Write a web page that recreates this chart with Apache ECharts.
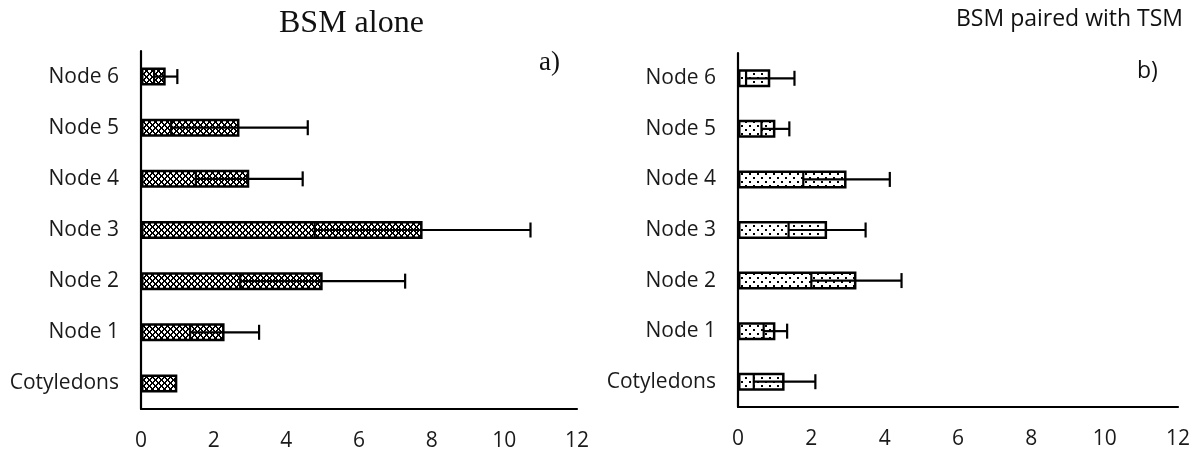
<!DOCTYPE html>
<html>
<head>
<meta charset="utf-8">
<script src="https://cdn.jsdelivr.net/npm/echarts@6/dist/echarts.min.js"></script>
<style>
  html, body { margin: 0; padding: 0; background: #fff; }
  #chart { width: 1204px; height: 452px; }
</style>
</head>
<body>
<div id="chart"></div>
<script>
// Shoot positions along the stem, listed from the bottom of the plant up
const categories = ['Cotyledons', 'Node 1', 'Node 2', 'Node 3', 'Node 4', 'Node 5', 'Node 6'];

// a) BSM alone: means and standard deviations
const aloneMean = [1.0, 2.3, 5.0, 7.75, 2.98, 2.71, 0.68];
const aloneSd   = [0, 0.95, 2.27, 2.97, 1.47, 1.88, 0.32];

// b) BSM paired with TSM: means and standard deviations
const pairedMean = [1.27, 1.02, 3.23, 2.43, 2.96, 1.02, 0.88];
const pairedSd   = [0.84, 0.32, 1.23, 1.05, 1.18, 0.38, 0.66];

const xTicks = { min: 0, max: 12, interval: 2 };

// Fill textures for the two panels
function crossHatch() {
  const c = document.createElement('canvas');
  c.width = 6; c.height = 6;
  const g = c.getContext('2d');
  g.fillStyle = '#fff'; g.fillRect(0, 0, 6, 6);
  g.fillStyle = '#000';
  for (let y = 0; y < 6; y++) {
    for (let x = 0; x < 6; x++) {
      const a = (x + y) % 6, b = (x - y + 6) % 6;
      if (a === 0 || a === 1 || b === 3 || b === 4) g.fillRect(x, y, 1, 1);
    }
  }
  return c;
}
function dotted() {
  const c = document.createElement('canvas');
  c.width = 8; c.height = 8;
  const g = c.getContext('2d');
  g.fillStyle = '#fff'; g.fillRect(0, 0, 8, 8);
  g.fillStyle = '#000';
  g.fillRect(1, 1, 2, 2);
  g.fillRect(5, 5, 2, 2);
  return c;
}

const labelFont = '"Open Sans", sans-serif';

function errorData(mean, sd) {
  return mean.map((m, i) => [i, m - sd[i], m + sd[i], sd[i]]);
}

function renderError(params, api) {
  if (api.value(3) === 0) return null;
  const cat = api.value(0);
  const lo = api.coord([api.value(1), cat]);
  const hi = api.coord([api.value(2), cat]);
  const h = 7.5;
  const style = { stroke: '#000', lineWidth: 2.2 };
  return {
    type: 'group',
    children: [
      { type: 'line', shape: { x1: lo[0], y1: lo[1], x2: hi[0], y2: hi[1] }, style },
      { type: 'line', shape: { x1: lo[0], y1: lo[1] - h, x2: lo[0], y2: lo[1] + h }, style },
      { type: 'line', shape: { x1: hi[0], y1: hi[1] - h, x2: hi[0], y2: hi[1] + h }, style }
    ]
  };
}

function xAxisFor(idx) {
  return {
    type: 'value', gridIndex: idx,
    min: xTicks.min, max: xTicks.max, interval: xTicks.interval,
    axisLine: { show: true, onZero: false, lineStyle: { color: '#000', width: 2.2 } },
    axisTick: { show: false },
    splitLine: { show: false },
    axisLabel: { color: '#1a1a1a', fontSize: 21, fontFamily: labelFont, margin: 22 }
  };
}
function yAxisFor(idx) {
  return {
    type: 'category', gridIndex: idx, data: categories,
    axisLine: { show: true, lineStyle: { color: '#000', width: 2.2 } },
    axisTick: { show: false },
    axisLabel: { color: '#1a1a1a', fontSize: 21, fontFamily: labelFont, margin: 22 }
  };
}

const chart = echarts.init(document.getElementById('chart'), null, { renderer: 'canvas' });
chart.setOption({
  animation: false,
  backgroundColor: '#fff',
  title: [
    { text: 'BSM alone', left: 274, top: 3,
      textStyle: { fontFamily: '"Liberation Serif", "Times New Roman", serif', fontWeight: 'normal', fontSize: 32, color: '#111' } },
    { text: 'a)', left: 534, top: 44,
      textStyle: { fontFamily: '"Liberation Serif", "Times New Roman", serif', fontWeight: 'normal', fontSize: 27, color: '#111' } },
    { text: 'BSM paired with TSM', left: 951, top: 3,
      textStyle: { fontFamily: labelFont, fontWeight: 'normal', fontSize: 23, color: '#111' } },
    { text: 'b)', left: 1132, top: 55,
      textStyle: { fontFamily: labelFont, fontWeight: 'normal', fontSize: 23, color: '#111' } }
  ],
  grid: [
    { left: 141, top: 51, width: 436, height: 358, containLabel: false },
    { left: 738, top: 53, width: 440, height: 354, containLabel: false }
  ],
  xAxis: [xAxisFor(0), xAxisFor(1)],
  yAxis: [yAxisFor(0), yAxisFor(1)],
  series: [
    {
      type: 'bar', xAxisIndex: 0, yAxisIndex: 0, data: aloneMean, barWidth: 18,
      itemStyle: { color: { image: crossHatch(), repeat: 'repeat' }, borderColor: '#000', borderWidth: 2.5 }
    },
    {
      type: 'custom', xAxisIndex: 0, yAxisIndex: 0, z: 5,
      data: errorData(aloneMean, aloneSd), renderItem: renderError
    },
    {
      type: 'bar', xAxisIndex: 1, yAxisIndex: 1, data: pairedMean, barWidth: 18,
      itemStyle: { color: { image: dotted(), repeat: 'repeat' }, borderColor: '#000', borderWidth: 2.5 }
    },
    {
      type: 'custom', xAxisIndex: 1, yAxisIndex: 1, z: 5,
      data: errorData(pairedMean, pairedSd), renderItem: renderError
    }
  ]
});
</script>
</body>
</html>
